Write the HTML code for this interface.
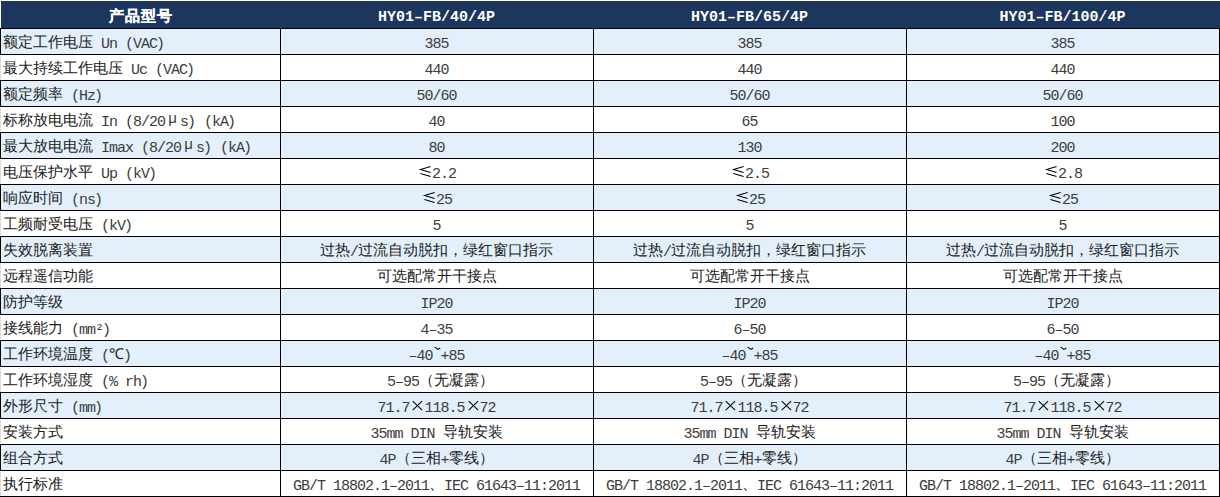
<!DOCTYPE html>
<html><head><meta charset="utf-8"><style>
html,body{margin:0;padding:0}
body{width:1220px;height:497px;position:relative;overflow:hidden;background:#fff;font-family:"Liberation Sans",sans-serif;font-size:15px;color:#202020}
.hd{position:absolute;left:1px;top:1px;width:1219px;height:27px;background:#1c365d}
.bl{position:absolute;left:1px;width:1218px;height:25px;background:#e3f0fc}
.hl{position:absolute;left:0;width:1220px;height:1px;background:#000}
.vl{position:absolute;top:28px;width:1px;height:469px;background:#000}
.lb{position:absolute;left:0;width:1px;height:27px;background:#000}
.gl{position:absolute;left:0;width:1px;height:25px;background:#dcdcdc}
.c{position:absolute;height:26px;line-height:26px;white-space:nowrap}
.t0{left:3px}
.m{font-family:"Liberation Mono",monospace;letter-spacing:-1px;position:relative;top:1px;color:#3c3c3c}
.w{display:inline-block;width:15px;text-align:center}
.rp{position:relative;left:-1px}
.g{display:inline-block;vertical-align:top;position:relative;top:1px}
.mu{position:relative;top:-2px;color:#3c3c3c;font-weight:normal}
.h{color:#fff;font-weight:bold;text-align:center;height:27px;line-height:27px}
.h .m{letter-spacing:0;top:0;color:#fff}
.h{letter-spacing:1px}
.h0{-webkit-text-stroke:0.25px #fff;padding-left:2px;box-sizing:border-box}
</style></head><body>
<div class="hd"></div>

<div class="bl" style="top:29px"></div>
<div class="lb" style="top:28px"></div>
<div class="gl" style="top:55px"></div>
<div class="bl" style="top:81px"></div>
<div class="lb" style="top:80px"></div>
<div class="gl" style="top:107px"></div>
<div class="bl" style="top:133px"></div>
<div class="lb" style="top:132px"></div>
<div class="gl" style="top:159px"></div>
<div class="bl" style="top:185px"></div>
<div class="lb" style="top:184px"></div>
<div class="gl" style="top:211px"></div>
<div class="bl" style="top:237px"></div>
<div class="lb" style="top:236px"></div>
<div class="gl" style="top:263px"></div>
<div class="bl" style="top:289px"></div>
<div class="lb" style="top:288px"></div>
<div class="gl" style="top:315px"></div>
<div class="bl" style="top:341px"></div>
<div class="lb" style="top:340px"></div>
<div class="gl" style="top:367px"></div>
<div class="bl" style="top:393px"></div>
<div class="lb" style="top:392px"></div>
<div class="gl" style="top:419px"></div>
<div class="bl" style="top:445px"></div>
<div class="lb" style="top:444px"></div>
<div class="gl" style="top:471px"></div>
<div class="hl" style="top:28px"></div>
<div class="hl" style="top:54px"></div>
<div class="hl" style="top:80px"></div>
<div class="hl" style="top:106px"></div>
<div class="hl" style="top:132px"></div>
<div class="hl" style="top:158px"></div>
<div class="hl" style="top:184px"></div>
<div class="hl" style="top:210px"></div>
<div class="hl" style="top:236px"></div>
<div class="hl" style="top:262px"></div>
<div class="hl" style="top:288px"></div>
<div class="hl" style="top:314px"></div>
<div class="hl" style="top:340px"></div>
<div class="hl" style="top:366px"></div>
<div class="hl" style="top:392px"></div>
<div class="hl" style="top:418px"></div>
<div class="hl" style="top:444px"></div>
<div class="hl" style="top:470px"></div>
<div class="hl" style="top:496px"></div>
<div class="vl" style="left:280px"></div>
<div class="vl" style="left:593px"></div>
<div class="vl" style="left:906px"></div>
<div class="vl" style="left:1219px"></div>
<div class="c h h0" style="top:2px;left:0px;width:280px">产品型号</div>
<div class="c h" style="top:2px;left:280px;width:313px"><span class="m">HY01–FB/40/4P</span></div>
<div class="c h" style="top:2px;left:593px;width:313px"><span class="m">HY01–FB/65/4P</span></div>
<div class="c h" style="top:2px;left:906px;width:313px"><span class="m">HY01–FB/100/4P</span></div>
<div class="c t0" style="top:29px">额定工作电压<span class="m"> Un (VAC<span class="rp">)</span></span></div>
<div class="c" style="top:29px;left:280px;width:313px;text-align:center;box-sizing:border-box"><span class="m">385</span></div>
<div class="c" style="top:29px;left:593px;width:313px;text-align:center;box-sizing:border-box"><span class="m">385</span></div>
<div class="c" style="top:29px;left:906px;width:313px;text-align:center;box-sizing:border-box"><span class="m">385</span></div>
<div class="c t0" style="top:55px">最大持续工作电压<span class="m"> Uc (VAC<span class="rp">)</span></span></div>
<div class="c" style="top:55px;left:280px;width:313px;text-align:center;box-sizing:border-box"><span class="m">440</span></div>
<div class="c" style="top:55px;left:593px;width:313px;text-align:center;box-sizing:border-box"><span class="m">440</span></div>
<div class="c" style="top:55px;left:906px;width:313px;text-align:center;box-sizing:border-box"><span class="m">440</span></div>
<div class="c t0" style="top:81px">额定频率<span class="m"> (Hz<span class="rp">)</span></span></div>
<div class="c" style="top:81px;left:280px;width:313px;text-align:center;box-sizing:border-box"><span class="m">50/60</span></div>
<div class="c" style="top:81px;left:593px;width:313px;text-align:center;box-sizing:border-box"><span class="m">50/60</span></div>
<div class="c" style="top:81px;left:906px;width:313px;text-align:center;box-sizing:border-box"><span class="m">50/60</span></div>
<div class="c t0" style="top:107px">标称放电电流<span class="m"> In (8/20</span><span class="w mu">μ</span><span class="m">s<span class="rp">)</span> (kA<span class="rp">)</span></span></div>
<div class="c" style="top:107px;left:280px;width:313px;text-align:center;box-sizing:border-box"><span class="m">40</span></div>
<div class="c" style="top:107px;left:593px;width:313px;text-align:center;box-sizing:border-box"><span class="m">65</span></div>
<div class="c" style="top:107px;left:906px;width:313px;text-align:center;box-sizing:border-box"><span class="m">100</span></div>
<div class="c t0" style="top:133px">最大放电电流<span class="m"> Imax (8/20</span><span class="w mu">μ</span><span class="m">s<span class="rp">)</span> (kA<span class="rp">)</span></span></div>
<div class="c" style="top:133px;left:280px;width:313px;text-align:center;box-sizing:border-box"><span class="m">80</span></div>
<div class="c" style="top:133px;left:593px;width:313px;text-align:center;box-sizing:border-box"><span class="m">130</span></div>
<div class="c" style="top:133px;left:906px;width:313px;text-align:center;box-sizing:border-box"><span class="m">200</span></div>
<div class="c t0" style="top:159px">电压保护水平<span class="m"> Up (kV<span class="rp">)</span></span></div>
<div class="c" style="top:159px;left:280px;width:313px;text-align:center;box-sizing:border-box"><svg class="g" width="15" height="26" viewBox="0 0 15 26"><path d="M13.6 6.6L3.6 9.6L13.6 12.6M3.4 13.6L13.6 16.6" stroke="#000" stroke-width="1.05" fill="none"/></svg><span class="m">2.2</span></div>
<div class="c" style="top:159px;left:593px;width:313px;text-align:center;box-sizing:border-box"><svg class="g" width="15" height="26" viewBox="0 0 15 26"><path d="M13.6 6.6L3.6 9.6L13.6 12.6M3.4 13.6L13.6 16.6" stroke="#000" stroke-width="1.05" fill="none"/></svg><span class="m">2.5</span></div>
<div class="c" style="top:159px;left:906px;width:313px;text-align:center;box-sizing:border-box"><svg class="g" width="15" height="26" viewBox="0 0 15 26"><path d="M13.6 6.6L3.6 9.6L13.6 12.6M3.4 13.6L13.6 16.6" stroke="#000" stroke-width="1.05" fill="none"/></svg><span class="m">2.8</span></div>
<div class="c t0" style="top:185px">响应时间<span class="m"> (ns<span class="rp">)</span></span></div>
<div class="c" style="top:185px;left:280px;width:313px;text-align:center;box-sizing:border-box"><svg class="g" width="15" height="26" viewBox="0 0 15 26"><path d="M13.6 6.6L3.6 9.6L13.6 12.6M3.4 13.6L13.6 16.6" stroke="#000" stroke-width="1.05" fill="none"/></svg><span class="m">25</span></div>
<div class="c" style="top:185px;left:593px;width:313px;text-align:center;box-sizing:border-box"><svg class="g" width="15" height="26" viewBox="0 0 15 26"><path d="M13.6 6.6L3.6 9.6L13.6 12.6M3.4 13.6L13.6 16.6" stroke="#000" stroke-width="1.05" fill="none"/></svg><span class="m">25</span></div>
<div class="c" style="top:185px;left:906px;width:313px;text-align:center;box-sizing:border-box"><svg class="g" width="15" height="26" viewBox="0 0 15 26"><path d="M13.6 6.6L3.6 9.6L13.6 12.6M3.4 13.6L13.6 16.6" stroke="#000" stroke-width="1.05" fill="none"/></svg><span class="m">25</span></div>
<div class="c t0" style="top:211px">工频耐受电压<span class="m"> (kV<span class="rp">)</span></span></div>
<div class="c" style="top:211px;left:280px;width:313px;text-align:center;box-sizing:border-box"><span class="m">5</span></div>
<div class="c" style="top:211px;left:593px;width:313px;text-align:center;box-sizing:border-box"><span class="m">5</span></div>
<div class="c" style="top:211px;left:906px;width:313px;text-align:center;box-sizing:border-box"><span class="m">5</span></div>
<div class="c t0" style="top:237px">失效脱离装置</div>
<div class="c" style="top:237px;left:280px;width:313px;text-align:center;box-sizing:border-box">过热<span class="m">/</span>过流自动脱扣，绿红窗口指示</div>
<div class="c" style="top:237px;left:593px;width:313px;text-align:center;box-sizing:border-box">过热<span class="m">/</span>过流自动脱扣，绿红窗口指示</div>
<div class="c" style="top:237px;left:906px;width:313px;text-align:center;box-sizing:border-box">过热<span class="m">/</span>过流自动脱扣，绿红窗口指示</div>
<div class="c t0" style="top:263px">远程遥信功能</div>
<div class="c" style="top:263px;left:280px;width:313px;text-align:center;box-sizing:border-box">可选配常开干接点</div>
<div class="c" style="top:263px;left:593px;width:313px;text-align:center;box-sizing:border-box">可选配常开干接点</div>
<div class="c" style="top:263px;left:906px;width:313px;text-align:center;box-sizing:border-box">可选配常开干接点</div>
<div class="c t0" style="top:289px">防护等级</div>
<div class="c" style="top:289px;left:280px;width:313px;text-align:center;box-sizing:border-box"><span class="m">IP20</span></div>
<div class="c" style="top:289px;left:593px;width:313px;text-align:center;box-sizing:border-box"><span class="m">IP20</span></div>
<div class="c" style="top:289px;left:906px;width:313px;text-align:center;box-sizing:border-box"><span class="m">IP20</span></div>
<div class="c t0" style="top:315px">接线能力<span class="m"> (mm²<span class="rp">)</span></span></div>
<div class="c" style="top:315px;left:280px;width:313px;text-align:center;box-sizing:border-box"><span class="m">4–35</span></div>
<div class="c" style="top:315px;left:593px;width:313px;text-align:center;box-sizing:border-box"><span class="m">6–50</span></div>
<div class="c" style="top:315px;left:906px;width:313px;text-align:center;box-sizing:border-box"><span class="m">6–50</span></div>
<div class="c t0" style="top:341px">工作环境温度<span class="m"> (</span><span class="w">℃</span><span class="m"><span class="rp">)</span></span></div>
<div class="c" style="top:341px;left:280px;width:313px;text-align:center;box-sizing:border-box"><span class="m">–40</span><svg class="g" width="8" height="26" viewBox="0 0 8 26"><path d="M1.5 5.2Q3 5.6 4.2 7Q5.4 7.6 7.2 5.8" stroke="#000" stroke-width="1.1" fill="none"/></svg><span class="m">+85</span></div>
<div class="c" style="top:341px;left:593px;width:313px;text-align:center;box-sizing:border-box"><span class="m">–40</span><svg class="g" width="8" height="26" viewBox="0 0 8 26"><path d="M1.5 5.2Q3 5.6 4.2 7Q5.4 7.6 7.2 5.8" stroke="#000" stroke-width="1.1" fill="none"/></svg><span class="m">+85</span></div>
<div class="c" style="top:341px;left:906px;width:313px;text-align:center;box-sizing:border-box"><span class="m">–40</span><svg class="g" width="8" height="26" viewBox="0 0 8 26"><path d="M1.5 5.2Q3 5.6 4.2 7Q5.4 7.6 7.2 5.8" stroke="#000" stroke-width="1.1" fill="none"/></svg><span class="m">+85</span></div>
<div class="c t0" style="top:367px">工作环境湿度<span class="m"> (% rh<span class="rp">)</span></span></div>
<div class="c" style="top:367px;left:280px;width:313px;text-align:center;padding-left:8px;box-sizing:border-box"><span class="m">5–95</span>（无凝露）</div>
<div class="c" style="top:367px;left:593px;width:313px;text-align:center;padding-left:8px;box-sizing:border-box"><span class="m">5–95</span>（无凝露）</div>
<div class="c" style="top:367px;left:906px;width:313px;text-align:center;padding-left:8px;box-sizing:border-box"><span class="m">5–95</span>（无凝露）</div>
<div class="c t0" style="top:393px">外形尺寸<span class="m"> (mm<span class="rp">)</span></span></div>
<div class="c" style="top:393px;left:280px;width:313px;text-align:center;box-sizing:border-box"><span class="m">71.7</span><svg class="g" width="15" height="26" viewBox="0 0 15 26"><path d="M3.7 7.2L13.1 16.2M13.1 7.2L3.7 16.2" stroke="#000" stroke-width="1.05" fill="none"/></svg><span class="m">118.5</span><svg class="g" width="15" height="26" viewBox="0 0 15 26"><path d="M3.7 7.2L13.1 16.2M13.1 7.2L3.7 16.2" stroke="#000" stroke-width="1.05" fill="none"/></svg><span class="m">72</span></div>
<div class="c" style="top:393px;left:593px;width:313px;text-align:center;box-sizing:border-box"><span class="m">71.7</span><svg class="g" width="15" height="26" viewBox="0 0 15 26"><path d="M3.7 7.2L13.1 16.2M13.1 7.2L3.7 16.2" stroke="#000" stroke-width="1.05" fill="none"/></svg><span class="m">118.5</span><svg class="g" width="15" height="26" viewBox="0 0 15 26"><path d="M3.7 7.2L13.1 16.2M13.1 7.2L3.7 16.2" stroke="#000" stroke-width="1.05" fill="none"/></svg><span class="m">72</span></div>
<div class="c" style="top:393px;left:906px;width:313px;text-align:center;box-sizing:border-box"><span class="m">71.7</span><svg class="g" width="15" height="26" viewBox="0 0 15 26"><path d="M3.7 7.2L13.1 16.2M13.1 7.2L3.7 16.2" stroke="#000" stroke-width="1.05" fill="none"/></svg><span class="m">118.5</span><svg class="g" width="15" height="26" viewBox="0 0 15 26"><path d="M3.7 7.2L13.1 16.2M13.1 7.2L3.7 16.2" stroke="#000" stroke-width="1.05" fill="none"/></svg><span class="m">72</span></div>
<div class="c t0" style="top:419px">安装方式</div>
<div class="c" style="top:419px;left:280px;width:313px;text-align:center;box-sizing:border-box"><span class="m">35mm DIN </span>导轨安装</div>
<div class="c" style="top:419px;left:593px;width:313px;text-align:center;box-sizing:border-box"><span class="m">35mm DIN </span>导轨安装</div>
<div class="c" style="top:419px;left:906px;width:313px;text-align:center;box-sizing:border-box"><span class="m">35mm DIN </span>导轨安装</div>
<div class="c t0" style="top:445px">组合方式</div>
<div class="c" style="top:445px;left:280px;width:313px;text-align:center;box-sizing:border-box"><span class="m">4P</span>（三相<span class="m">+</span>零线）</div>
<div class="c" style="top:445px;left:593px;width:313px;text-align:center;box-sizing:border-box"><span class="m">4P</span>（三相<span class="m">+</span>零线）</div>
<div class="c" style="top:445px;left:906px;width:313px;text-align:center;box-sizing:border-box"><span class="m">4P</span>（三相<span class="m">+</span>零线）</div>
<div class="c t0" style="top:471px">执行标准</div>
<div class="c" style="top:471px;left:280px;width:313px;text-align:center;box-sizing:border-box"><span class="m">GB/T 18802.1–2011</span>、<span class="m">IEC 61643–11:2011</span></div>
<div class="c" style="top:471px;left:593px;width:313px;text-align:center;box-sizing:border-box"><span class="m">GB/T 18802.1–2011</span>、<span class="m">IEC 61643–11:2011</span></div>
<div class="c" style="top:471px;left:906px;width:313px;text-align:center;box-sizing:border-box"><span class="m">GB/T 18802.1–2011</span>、<span class="m">IEC 61643–11:2011</span></div>
</body></html>
